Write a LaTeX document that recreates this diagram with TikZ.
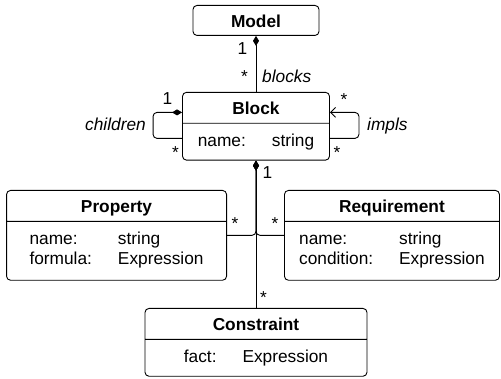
\documentclass[tikz,border=0pt]{standalone}
\usepackage{fontspec}
\setmainfont{Liberation Sans}
\usetikzlibrary{shapes.multipart, arrows.meta, positioning}
\newcommand{\clsname}[1]{\rule[-8pt]{0pt}{30pt}\textbf{#1}}
\newcommand{\attrs}[2][13]{\begin{tabular}{@{}l@{\hspace{26pt}}l@{}}\rule{0pt}{23pt}#2\rule[-#1pt]{0pt}{#1pt}\end{tabular}}
\tikzstyle{classbox} = [rectangle, draw=black, rounded corners=4pt, line width=0.9pt, inner xsep=6pt, inner ysep=0pt]
\tikzstyle{umlclass} = [classbox, rectangle split, rectangle split parts=2]
\tikzstyle{comp} = [line width=0.9pt, {Diamond[length=10pt,width=6pt]}-]
\tikzstyle{assoc} = [line width=0.9pt, -{Straight Barb[length=5pt,width=10pt]}]
\tikzstyle{mult} = [inner sep=0pt, anchor=base]
\begin{document}
\begin{tikzpicture}[x=1pt, y=1pt, font=\fontsize{17.3pt}{20pt}\selectfont]
  \useasboundingbox (0,0) rectangle (501,-379);
  \node (model) [classbox, minimum width=126pt, anchor=north] at (256,-5) {\clsname{Model}};
  \node (block) [umlclass, minimum width=147pt, below=56pt of model] {\clsname{Block}\nodepart{two}\attrs{name: & string}};
  \node (prop) [umlclass, minimum width=220pt, anchor=north east] at (227,-190) {\clsname{Property}\nodepart{two}\attrs[15]{name: & string\\formula: & Expression}};
  \node (req) [umlclass, minimum width=215pt, anchor=north west] at (284,-190) {\clsname{Requirement}\nodepart{two}\attrs[15]{name: & string\\condition: & Expression}};
  \node (cons) [umlclass, minimum width=222pt, anchor=north] at (256,-308) {\clsname{Constraint}\nodepart{two}\attrs{fact: & Expression}};
  \draw [comp] (model) -- (block);
  \draw [comp] (block) -- (cons);
  \draw [comp, rounded corners=4pt] (block.south) |- (prop.east);
  \draw [comp, rounded corners=4pt] (block.south) |- (req.west);
  \draw [comp, rounded corners=4pt] ([yshift=-20.5pt]block.north west) -- ++(-29pt,0) |- ([yshift=-46.5pt]block.north west);
  \draw [assoc, rounded corners=4pt] ([yshift=-46.5pt]block.north east) -- ++(29pt,0) |- ([yshift=-20.5pt]block.north east);
  \node (mb1) [mult] at (242.5,-55) {1};
  \node (mbm) [mult] at (244.5,-82.5) {*};
  \node (mbr) [mult, anchor=base west] at (262,-82.5) {\textit{blocks}};
  \node (ch1) [mult] at (167.5,-105) {1};
  \node (chm) [mult] at (175.5,-158.5) {*};
  \node (chr) [mult, anchor=base east] at (146,-131) {\textit{children}};
  \node (im1) [mult] at (344,-105.5) {*};
  \node (im2) [mult] at (337,-158.5) {*};
  \node (imr) [mult, anchor=base west] at (367,-131) {\textit{impls}};
  \node (bp1) [mult] at (267.5,-179) {1};
  \node (pm) [mult] at (235,-229.5) {*};
  \node (rm) [mult] at (275,-230) {*};
  \node (cm) [mult] at (263.5,-303.5) {*};
\end{tikzpicture}
\end{document}
